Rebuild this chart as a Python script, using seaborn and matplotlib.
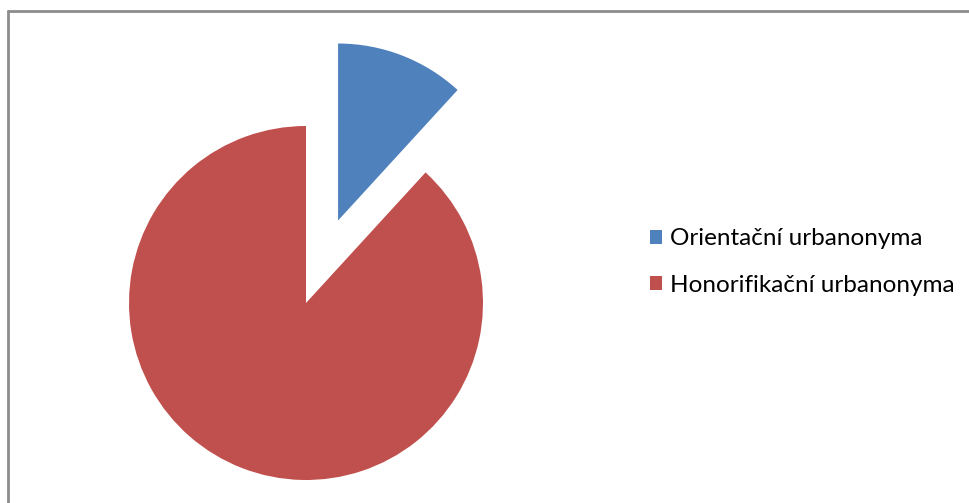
import matplotlib
matplotlib.use("Agg")
import matplotlib.pyplot as plt
import seaborn as sns
from matplotlib.lines import Line2D

# Share of street-name types
categories = ["Orientační urbanonyma", "Honorifikační urbanonyma"]
shares = [11.8, 88.2]
colors = ["#4F81BD", "#C0504D"]

sns.set_theme(style="white")
plt.rcParams["font.family"] = ["Lato", "DejaVu Sans"]
plt.rcParams["text.color"] = "black"

W, H = 970, 503
fig = plt.figure(figsize=(W / 100, H / 100), dpi=100)
fig.patch.set_facecolor("white")

# Axes span the whole figure, data units equal pixels
ax = fig.add_axes([0, 0, 1, 1])

radius = 177
center = (306, H - 303)
explode = [0.5 * radius, 0]

wedges, _ = ax.pie(
    shares,
    colors=colors,
    startangle=90,
    counterclock=False,
    radius=radius,
    center=center,
    explode=explode,
    wedgeprops=dict(linewidth=0),
    frame=True,
)
ax.set_xlim(0, W)
ax.set_ylim(0, H)
ax.set_aspect("equal")
ax.axis("off")

leg = ax.legend(
    wedges,
    categories,
    loc="center left",
    bbox_to_anchor=(650 / W, 1 - 262 / H),
    bbox_transform=fig.transFigure,
    frameon=False,
    fontsize=17.5,
    handlelength=0.5,
    handleheight=0.5,
    handletextpad=0.33,
    labelspacing=1.05,
    borderpad=0,
    borderaxespad=0,
)
for t in leg.get_texts():
    t.set_color("black")

# Chart frame (top and left edges visible)
frame_color = "#8C8C8C"
fig.add_artist(Line2D([8.5 / W, 1.0], [1 - 10.5 / H, 1 - 10.5 / H],
                      transform=fig.transFigure, color=frame_color, linewidth=2))
fig.add_artist(Line2D([8.5 / W, 8.5 / W], [0.0, 1 - 10.5 / H],
                      transform=fig.transFigure, color=frame_color, linewidth=2))

fig.savefig("out.png", dpi=100, facecolor="white")
